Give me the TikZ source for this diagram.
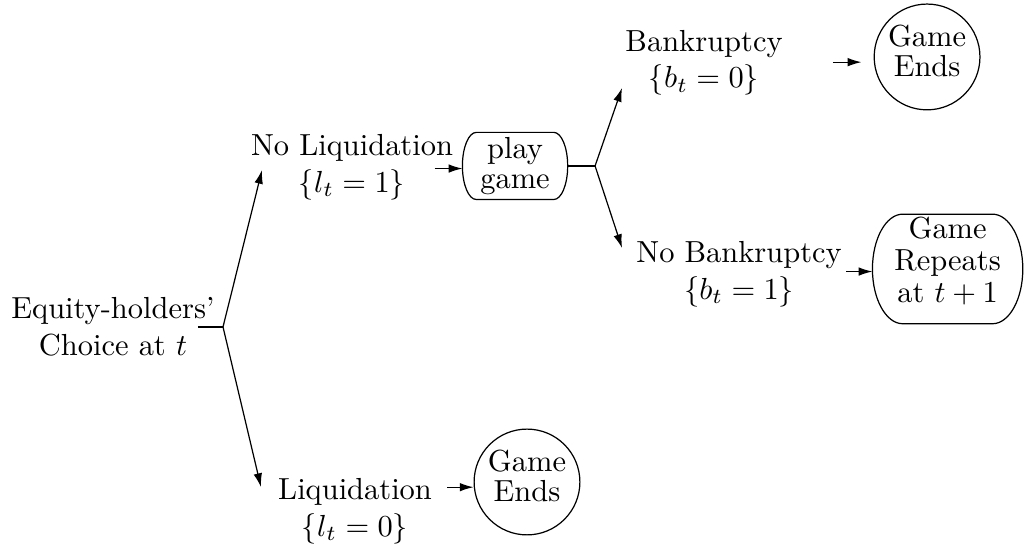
\documentclass[tikz,border=0pt]{standalone}
\usepackage{tikz}
\usetikzlibrary{arrows.meta,calc}

\tikzset{
  choice/.style={align=center},
  outcome/.style={circle,draw,inner sep=0pt,minimum size=1.22cm,align=center,text depth=4pt},
  stage/.style={rectangle,inner sep=0pt,align=center},
  arr/.style={-{Latex[length=4.5pt,width=2.8pt]}}
}
% oval frame round a stage node: node name, x radius
\newcommand{\ovalframe}[2]{%
  \draw let \p1=(#1.north), \p2=(#1.south), \n1={0.5*(\y1-\y2)} in
    ([xshift=#2]#1.north west) -- ([xshift=-#2]#1.north east)
    arc[start angle=90,end angle=-90,x radius=#2,y radius=\n1]
    -- ([xshift=#2]#1.south west)
    arc[start angle=270,end angle=90,x radius=#2,y radius=\n1] -- cycle;}

\begin{document}
\begin{tikzpicture}
\useasboundingbox (0,0) rectangle (11.81,6.378);

% first decision
\node[choice] (eq) at (1.303,2.607) {Equity-holders'\\Choice at $t$};
\node[choice] (noliq) at (4.060,4.452) {No Liquidation\\$\{l_t=1\}$};
\node[choice] (liq) at (4.095,0.484) {Liquidation\\$\{l_t=0\}$};
\node[stage,minimum width=1.2cm,minimum height=0.76cm] (play) at (5.940,4.464) {play\\[-2pt]game};
\ovalframe{play}{0.16cm}
\node[outcome] (endsLow) at (6.078,0.819) {Game\\[-2pt]Ends};

% second decision
\node[choice] (bank) at (8.120,5.652) {Bankruptcy\\$\{b_t=0\}$};
\node[choice] (nobank) at (8.524,3.218) {No Bankruptcy\\$\{b_t=1\}$};
\node[outcome] (endsTop) at (10.692,5.721) {Game\\[-2pt]Ends};
\node[stage,minimum width=1.72cm,minimum height=1.25cm,text depth=6pt] (repeat) at (10.929,3.276) {Game\\[-1.5pt]Repeats\\[-1.5pt]at $t+1$};
\ovalframe{repeat}{0.35cm}

\coordinate (forkEq) at (2.572,2.607);
\coordinate (tipNoLiq) at (3.022,4.417);
\coordinate (tipLiq) at (3.010,0.761);
\coordinate (forkPlay) at (6.863,4.464);
\coordinate (tipBank) at (7.174,5.363);
\coordinate (tipNoBank) at (7.174,3.518);

\draw ([xshift=-0.29cm]forkEq) -- (forkEq);
\draw[arr] (forkEq) -- (tipNoLiq);
\draw[arr] (forkEq) -- (tipLiq);
\draw[arr] ([xshift=-0.32cm,yshift=-0.03cm]play.west) -- ([yshift=-0.03cm]play.west);
\draw[arr] ([xshift=-0.3cm,yshift=-0.06cm]endsLow.west) -- ([yshift=-0.06cm]endsLow.west);

\draw (play.east) -- (forkPlay);
\draw[arr] (forkPlay) -- (tipBank);
\draw[arr] (forkPlay) -- (tipNoBank);
\draw[arr] ([xshift=-0.47cm,yshift=-0.06cm]endsTop.west) -- ([xshift=-0.14cm,yshift=-0.06cm]endsTop.west);
\draw[arr] ([xshift=-0.3cm,yshift=-0.03cm]repeat.west) -- ([yshift=-0.03cm]repeat.west);
\end{tikzpicture}
\end{document}
